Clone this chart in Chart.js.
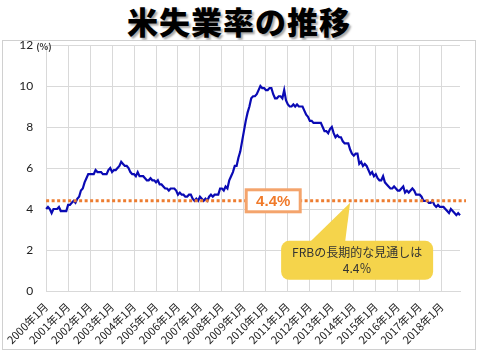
<!DOCTYPE html>
<html>
<head>
<meta charset="utf-8">
<script src="https://cdn.jsdelivr.net/npm/chart.js@4"></script>
<style>
  html, body { margin: 0; padding: 0; background: #fff; }
  body { width: 478px; height: 351px; position: relative; overflow: hidden; }
  #title {
    position: absolute; left: 0; top: 1px; width: 478px; text-align: center;
    font-family: "Noto Sans CJK JP", sans-serif; font-weight: 900; font-size: 31px;
    line-height: 40px; color: #000; letter-spacing: 1px;
    text-shadow: 2px 2px 2px rgba(0, 0, 0, 0.35);
  }
  #frame {
    position: absolute; left: 2px; top: 40px; width: 472px; height: 308px;
    border: 1px solid #d0d0d0;
  }
  #chart { position: absolute; left: 0; top: 0; }
</style>
</head>
<body>
<div id="title">米失業率の推移</div>
<div id="frame"></div>
<canvas id="chart" width="478" height="351"></canvas>
<script>
// 米国失業率（月次, %） 2000年1月〜2018年11月
const years = [2000, 2001, 2002, 2003, 2004, 2005, 2006, 2007, 2008, 2009,
               2010, 2011, 2012, 2013, 2014, 2015, 2016, 2017, 2018];
const unemploymentRate = [
  4.0, 4.1, 4.0, 3.8, 4.0, 4.0, 4.0, 4.1, 3.9, 3.9, 3.9, 3.9, // 2000
  4.2, 4.2, 4.3, 4.4, 4.3, 4.5, 4.6, 4.9, 5.0, 5.3, 5.5, 5.7, // 2001
  5.7, 5.7, 5.7, 5.9, 5.8, 5.8, 5.8, 5.7, 5.7, 5.7, 5.9, 6.0, // 2002
  5.8, 5.9, 5.9, 6.0, 6.1, 6.3, 6.2, 6.1, 6.1, 6.0, 5.8, 5.7, // 2003
  5.7, 5.6, 5.8, 5.6, 5.6, 5.6, 5.5, 5.4, 5.4, 5.5, 5.4, 5.4, // 2004
  5.3, 5.4, 5.2, 5.2, 5.1, 5.0, 5.0, 4.9, 5.0, 5.0, 5.0, 4.9, // 2005
  4.7, 4.8, 4.7, 4.7, 4.6, 4.6, 4.7, 4.7, 4.5, 4.4, 4.5, 4.4, // 2006
  4.6, 4.5, 4.4, 4.5, 4.4, 4.6, 4.7, 4.6, 4.7, 4.7, 4.7, 5.0, // 2007
  5.0, 4.9, 5.1, 5.0, 5.4, 5.6, 5.8, 6.1, 6.1, 6.5, 6.8, 7.3, // 2008
  7.8, 8.3, 8.7, 9.0, 9.4, 9.5, 9.5, 9.6, 9.8, 10.0, 9.9, 9.9, // 2009
  9.8, 9.8, 9.9, 9.9, 9.6, 9.4, 9.4, 9.5, 9.5, 9.4, 9.8, 9.3, // 2010
  9.1, 9.0, 9.0, 9.1, 9.0, 9.1, 9.0, 9.0, 9.0, 8.8, 8.6, 8.5, // 2011
  8.3, 8.3, 8.2, 8.2, 8.2, 8.2, 8.2, 8.0, 7.8, 7.8, 7.7, 7.9, // 2012
  8.0, 7.7, 7.5, 7.6, 7.5, 7.5, 7.3, 7.2, 7.2, 7.2, 6.9, 6.7, // 2013
  6.6, 6.7, 6.7, 6.2, 6.3, 6.1, 6.2, 6.1, 5.9, 5.7, 5.8, 5.6, // 2014
  5.7, 5.5, 5.4, 5.4, 5.6, 5.3, 5.2, 5.1, 5.0, 5.0, 5.1, 5.0, // 2015
  4.9, 4.9, 5.0, 5.1, 4.8, 4.9, 4.8, 4.9, 5.0, 4.9, 4.7, 4.7, // 2016
  4.7, 4.6, 4.4, 4.4, 4.4, 4.3, 4.3, 4.4, 4.2, 4.1, 4.2, 4.1, // 2017
  4.1, 4.1, 4.0, 3.9, 3.8, 4.0, 3.9, 3.8, 3.7, 3.8, 3.7       // 2018
];
const yTicks = [0, 2, 4, 6, 8, 10, 12];
const frbLongRun = 4.4;
const boxLabel = '4.4%';
const calloutLines = ['FRBの長期的な見通しは', '4.4％'];

// month labels like "2000年1月"
const monthLabels = [];
years.forEach(y => {
  for (let m = 1; m <= 12; m++) monthLabels.push(y + '年' + m + '月');
});
const labels = monthLabels.slice(0, unemploymentRate.length);

const GRID = '#d9d9d9';
const ORANGE = '#ed7d31';

const annotationPlugin = {
  id: 'frbAnnotation',
  afterDatasetsDraw(chart) {
    const ctx = chart.ctx;
    const area = chart.chartArea;
    const xs = chart.scales.x, ys = chart.scales.y;
    const yLine = ys.getPixelForValue(frbLongRun);

    ctx.save();
    // (%) unit label
    ctx.font = 'bold 9px "Noto Sans CJK JP", sans-serif';
    ctx.fillStyle = '#333';
    ctx.textAlign = 'left';
    ctx.textBaseline = 'middle';
    ctx.fillText('(%)', area.left - 10, ys.getPixelForValue(12) + 2);

    // dotted line
    ctx.strokeStyle = ORANGE;
    ctx.lineWidth = 3;
    ctx.setLineDash([3, 2.5]);
    ctx.beginPath();
    ctx.moveTo(area.left, yLine);
    ctx.lineTo(area.right + 6, yLine);
    ctx.stroke();
    ctx.setLineDash([]);

    // 4.4% box
    const bx = xs.getPixelForValue(labels.indexOf('2010年5月'));
    const bw = 54, bh = 22;
    ctx.fillStyle = '#fff';
    ctx.fillRect(bx - bw / 2, yLine - bh / 2, bw, bh);
    ctx.strokeStyle = '#f4a46c';
    ctx.lineWidth = 3;
    ctx.strokeRect(bx - bw / 2, yLine - bh / 2, bw, bh);
    ctx.fillStyle = '#f07a2a';
    ctx.font = 'bold 15px "Liberation Sans", Arial, sans-serif';
    ctx.textAlign = 'center';
    ctx.textBaseline = 'middle';
    ctx.fillText(boxLabel, bx, yLine + 1);

    // callout
    const tipX = xs.getPixelForValue(labels.indexOf('2013年11月'));
    const tipY = yLine + 2;
    const cw = 152, ch = 39;
    const cx = tipX + 7 - cw / 2;
    const cy = tipY + 38;
    ctx.fillStyle = '#f5d44b';
    ctx.beginPath();
    ctx.roundRect(cx, cy, cw, ch, 8);
    ctx.fill();
    ctx.beginPath();
    ctx.moveTo(tipX - 40, cy + 1);
    ctx.lineTo(tipX, tipY);
    ctx.lineTo(tipX - 5, cy + 1);
    ctx.closePath();
    ctx.fill();
    ctx.fillStyle = '#333';
    ctx.font = '12px "Noto Sans CJK JP", sans-serif';
    ctx.fillText(calloutLines[0], cx + cw / 2, cy + 12);
    ctx.fillText(calloutLines[1], cx + cw / 2, cy + 28);
    ctx.restore();
  }
};

new Chart(document.getElementById('chart').getContext('2d'), {
  type: 'line',
  data: {
    labels: labels,
    datasets: [{
      label: '失業率',
      data: unemploymentRate,
      borderColor: '#0a0ab4',
      borderWidth: 2.2,
      pointRadius: 0,
      tension: 0,
      fill: false
    }]
  },
  options: {
    responsive: false,
    animation: false,
    devicePixelRatio: 1,
    layout: { padding: { left: 13, right: 18, top: 45, bottom: 4 } },
    plugins: { legend: { display: false }, tooltip: { enabled: false } },
    scales: {
      x: {
        type: 'category',
        offset: false,
        grid: { color: GRID, drawTicks: false },
        border: { color: GRID },
        ticks: {
          autoSkip: false,
          maxRotation: 45,
          minRotation: 45,
          padding: 9,
          color: '#222',
          font: { family: '"Noto Sans CJK JP", sans-serif', size: 11 },
          callback: function (v, i) {
            const l = labels[i];
            return l.endsWith('年1月') ? l : null;
          }
        },
        afterFit(scale) { scale.height = 56; }
      },
      y: {
        min: 0,
        max: 12,
        afterBuildTicks(scale) { scale.ticks = yTicks.map(v => ({ value: v })); },
        grid: { color: GRID, drawTicks: false },
        border: { display: false },
        ticks: {
          padding: 13,
          color: '#222',
          font: { family: 'Lato, sans-serif', size: 12 }
        },
        afterFit(scale) { scale.width = 30; }
      }
    }
  },
  plugins: [annotationPlugin]
});
</script>
</body>
</html>
